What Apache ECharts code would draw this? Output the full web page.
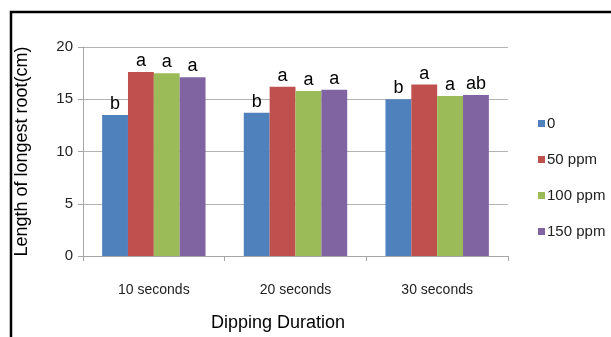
<!DOCTYPE html>
<html>
<head>
<meta charset="utf-8">
<script src="https://cdn.jsdelivr.net/npm/echarts@6/dist/echarts.min.js"></script>
<style>
  html, body { margin: 0; padding: 0; background: #fff; }
  #chart { width: 611px; height: 337px; }
</style>
</head>
<body>
<div id="chart"></div>
<script>
// Dipping durations on the x axis
const categories = ['10 seconds', '20 seconds', '30 seconds'];

// Longest root length (cm) per concentration
const seriesNames = ['0', '50 ppm', '100 ppm', '150 ppm'];
const values0 = [13.5, 13.7, 15.0];
const values50 = [17.6, 16.2, 16.4];
const values100 = [17.5, 15.8, 15.3];
const values150 = [17.1, 15.9, 15.4];

// Significance letters drawn above each bar
const letters0 = ['b', 'b', 'b'];
const letters50 = ['a', 'a', 'a'];
const letters100 = ['a', 'a', 'a'];
const letters150 = ['a', 'a', 'ab'];

const colors = ['#4F81BD', '#C0504D', '#9BBB59', '#8064A2'];
const font = '"Liberation Sans", Arial, sans-serif';

function makeSeries(name, values, letters, color) {
  return {
    name: name,
    type: 'bar',
    data: values,
    barCategoryGap: '27%',
    barGap: '0%',
    itemStyle: { color: color },
    label: {
      show: true,
      position: 'top',
      distance: 2,
      color: '#000',
      fontFamily: font,
      fontSize: 18,
      formatter: (p) => letters[p.dataIndex]
    }
  };
}

const chart = echarts.init(document.getElementById('chart'), null, { renderer: 'canvas' });
chart.setOption({
  animation: false,
  backgroundColor: '#fff',
  color: colors,
  grid: { left: 83, right: 103, top: 47, bottom: 81, containLabel: false },
  legend: {
    orient: 'vertical',
    left: 533,
    top: 111,
    itemWidth: 7,
    itemHeight: 7,
    itemGap: 21,
    icon: 'rect',
    textStyle: { fontFamily: font, fontSize: 15, color: '#222', padding: [0, 0, 0, -3] },
    data: seriesNames
  },
  xAxis: {
    type: 'category',
    data: categories,
    name: 'Dipping Duration',
    nameLocation: 'middle',
    nameGap: 58,
    nameTextStyle: { fontFamily: font, fontSize: 18, color: '#000', padding: [0, 35, 0, 0] },
    axisLine: { lineStyle: { color: '#a6a6a6' } },
    axisTick: { show: true, length: 5, lineStyle: { color: '#a6a6a6' } },
    axisLabel: { fontFamily: font, fontSize: 14, color: '#222', margin: 27 }
  },
  yAxis: {
    type: 'value',
    min: 0,
    max: 20,
    interval: 5,
    name: 'Length of longest root(cm)',
    nameLocation: 'middle',
    nameGap: 52,
    nameTextStyle: { fontFamily: font, fontSize: 18, color: '#000' },
    axisLine: { show: true, lineStyle: { color: '#a6a6a6' } },
    axisTick: { show: true, length: 5, lineStyle: { color: '#a6a6a6' } },
    axisLabel: { fontFamily: font, fontSize: 15, color: '#222', margin: 10 },
    splitLine: { lineStyle: { color: '#b3b3b3' } }
  },
  graphic: [{
    type: 'rect',
    shape: { x: 11, y: 12, width: 640, height: 400 },
    style: { fill: 'none', stroke: '#000', lineWidth: 2.5 },
    silent: true
  }],
  series: [
    makeSeries(seriesNames[0], values0, letters0, colors[0]),
    makeSeries(seriesNames[1], values50, letters50, colors[1]),
    makeSeries(seriesNames[2], values100, letters100, colors[2]),
    makeSeries(seriesNames[3], values150, letters150, colors[3])
  ]
});
</script>
</body>
</html>
